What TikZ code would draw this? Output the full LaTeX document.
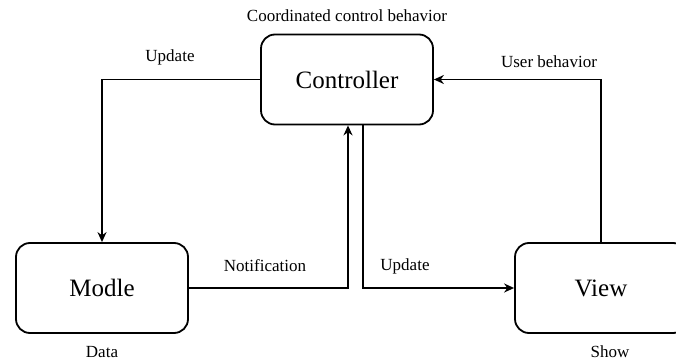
\documentclass[tikz,border=0pt]{standalone}
\usepackage{fontspec}
\setmainfont{Liberation Serif}
\usepackage{tikz}
\usetikzlibrary{arrows.meta, positioning}

\begin{document}
\begin{tikzpicture}[x=1pt, y=-1pt,
    part/.style={draw, line width=1.8pt, rounded corners=14pt, minimum width=172pt, minimum height=90pt, font=\fontsize{25}{28}\selectfont},
    note/.style={font=\fontsize{17}{20}\selectfont},
    flow/.style={line width=1.8pt, -{Stealth[length=10pt, width=9pt]}}]
    \useasboundingbox (0,0) rectangle (676,363);

    \node[part] (controller) at (347,79.5) {Controller};
    \node[part] (modle) at (102,288) {Modle};
    \node[part] (view) at (601,288) {View};

    \node[note] (coord) at (347,16) {Coordinated control behavior};
    \node[note] (update_left) at (170,57) {Update};
    \node[note] (notification) at (265,266) {Notification};
    \node[note] (update_right) at (405,266) {Update};
    \node[note] (user_behavior) at (549,62) {User behavior};
    \node[note] (data) at (102,352) {Data};
    \node[note] (show) at (610,352) {Show};

    \draw[flow] (controller.west) -| (modle.north);
    \draw[flow] (modle.east) -| ([xshift=1pt]controller.south);
    \draw[flow] ([xshift=16pt]controller.south) |- (view.west);
    \draw[flow] (view.north) |- (controller.east);
\end{tikzpicture}
\end{document}
